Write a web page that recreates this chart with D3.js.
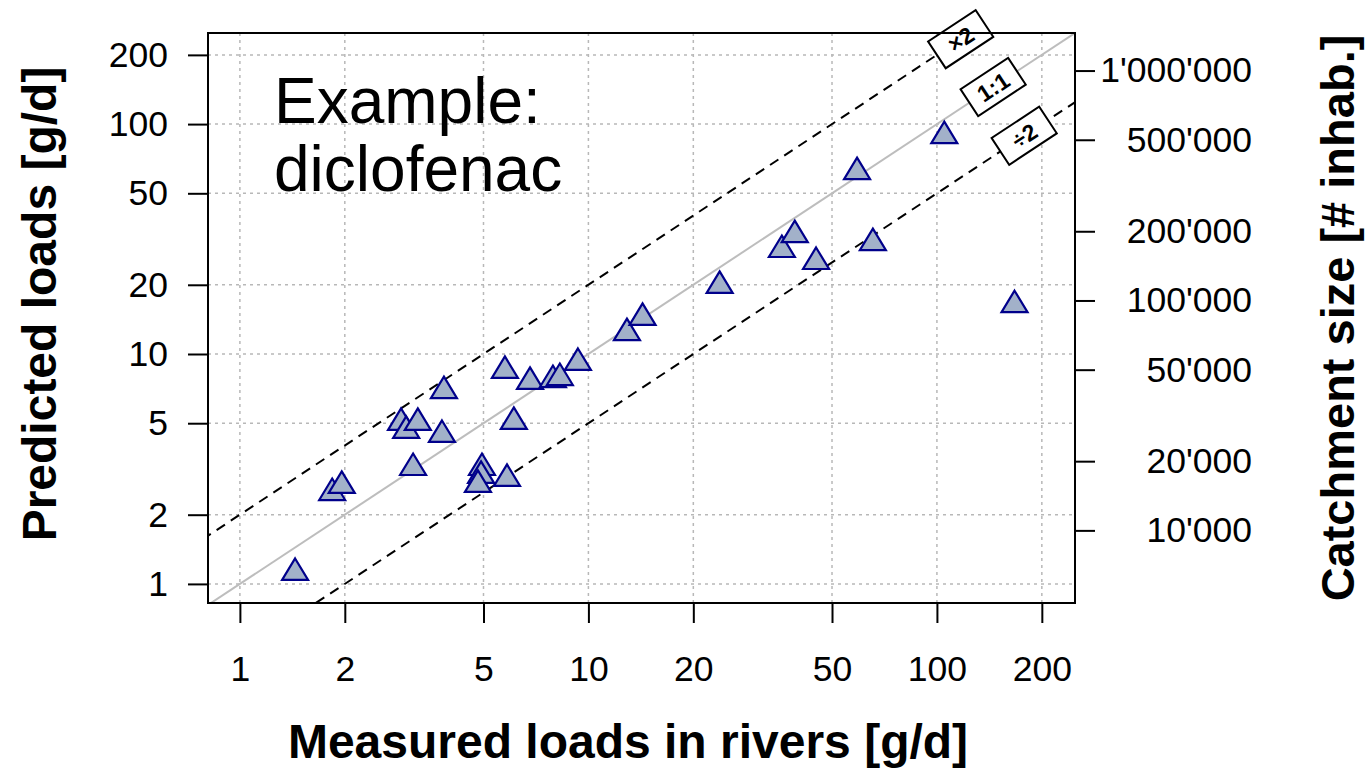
<!DOCTYPE html>
<html>
<head>
<meta charset="utf-8">
<script src="https://cdn.jsdelivr.net/npm/d3@7"></script>
<style>
  html, body { margin: 0; padding: 0; background: #fff; }
  svg { display: block; font-family: "Liberation Sans", Arial, Helvetica, sans-serif; }
</style>
</head>
<body>
<svg id="chart" width="1366" height="768"></svg>
<script>
// measured vs predicted loads (g/d)
const measured = [1.44, 1.84, 1.96, 2.90, 3.00, 3.24, 3.14, 3.80, 3.85, 4.95, 4.92, 4.82, 5.84, 6.11, 5.76,
  6.80, 7.91, 8.28, 9.33, 12.9, 14.3, 23.8, 35.9, 39.1, 45.0, 65.5, 59.0, 105, 167];
const predicted = [1.15, 2.56, 2.75, 5.17, 4.77, 5.17, 3.29, 4.58, 7.11, 3.29, 3.04, 2.78, 2.95, 5.22, 8.70,
  7.79, 7.94, 8.10, 9.42, 12.7, 14.8, 20.4, 29.2, 33.9, 25.9, 31.3, 63.7, 91.4, 16.8];

const xTicks = [1, 2, 5, 10, 20, 50, 100, 200];
const yTicks = [1, 2, 5, 10, 20, 50, 100, 200];
const inhabTicks = [10000, 20000, 50000, 100000, 200000, 500000, 1000000];
const inhabPerGram = 5850; // catchment size per g/d of predicted load

// reference lines: factor and label position (x value)
const refLines = [
  { name: 'x2', label: '×2', factor: 2, labelAt: 117 },
  { name: 'one', label: '1:1', factor: 1, labelAt: 145 },
  { name: 'half', label: '÷2', factor: 0.5, labelAt: 178 },
];

const svg = d3.select('#chart');
const plotL = 208, plotR = 1075, plotT = 33, plotB = 603;
const xDomain = [0.81, 249];
const yDomain = [0.826, 249];

const x = d3.scaleLog(xDomain, [plotL, plotR]);
const y = d3.scaleLog(yDomain, [plotB, plotT]);
const yInhab = d3.scaleLog(yDomain.map((d) => d * inhabPerGram), [plotB, plotT]);

svg.append('rect').attr('width', 1366).attr('height', 768).attr('fill', '#fff');

svg.append('clipPath').attr('id', 'plotclip')
  .append('rect').attr('x', plotL).attr('y', plotT).attr('width', plotR - plotL).attr('height', plotB - plotT);

// grid
const grid = svg.append('g').attr('stroke', '#b8b8b8').attr('stroke-width', 1.5).attr('stroke-dasharray', '3,4');
grid.selectAll('.gx').data(xTicks).join('line')
  .attr('x1', (d) => x(d)).attr('x2', (d) => x(d)).attr('y1', plotT).attr('y2', plotB);
grid.selectAll('.gy').data(yTicks).join('line')
  .attr('y1', (d) => y(d)).attr('y2', (d) => y(d)).attr('x1', plotL).attr('x2', plotR);

// example text
const ex = svg.append('text').attr('font-size', 64).attr('fill', '#000');
ex.append('tspan').attr('x', 274).attr('y', 123).text('Example:');
ex.append('tspan').attr('x', 274).attr('y', 191).text('diclofenac');

// reference lines
const lines = svg.append('g').attr('clip-path', 'url(#plotclip)');
refLines.forEach((r) => {
  lines.append('line')
    .attr('x1', x(xDomain[0] / 2)).attr('y1', y(xDomain[0] / 2 * r.factor))
    .attr('x2', x(xDomain[1] * 2)).attr('y2', y(xDomain[1] * 2 * r.factor))
    .attr('stroke', r.factor === 1 ? '#bdbdbd' : '#000')
    .attr('stroke-width', 2)
    .attr('stroke-dasharray', r.factor === 1 ? null : '10,7');
});

// points
const tri = 'M0,-11.5L13,10L-13,10Z';
svg.append('g').selectAll('path').data(measured).join('path')
  .attr('transform', (d, i) => `translate(${x(d)},${y(predicted[i])})`)
  .attr('d', tri)
  .attr('fill', '#a2b1c9')
  .attr('stroke', '#00008b')
  .attr('stroke-width', 2.2)
  .attr('stroke-linejoin', 'miter');

// labels on the reference lines
const angle = -Math.atan2(y(1) - y(10), x(10) - x(1)) * 180 / Math.PI;
refLines.forEach((r) => {
  const g = svg.append('g')
    .attr('transform', `translate(${x(r.labelAt)},${y(r.labelAt * r.factor)}) rotate(${angle})`);
  g.append('rect').attr('x', -28.5).attr('y', -16).attr('width', 57).attr('height', 32)
    .attr('fill', '#fff').attr('stroke', '#000').attr('stroke-width', 2);
  g.append('text').attr('text-anchor', 'middle').attr('dy', '0.36em')
    .attr('font-size', 23).attr('font-weight', 'bold').text(r.label);
});

// axes
function styleAxis(g) {
  g.attr('font-family', null);
  g.select('.domain').remove();
  g.selectAll('.tick line').attr('stroke', '#000').attr('stroke-width', 2);
  g.selectAll('.tick text').attr('fill', '#000').attr('font-size', 35.5);
}
svg.append('g').attr('transform', `translate(0,${plotB})`)
  .call(d3.axisBottom(x).tickValues(xTicks).tickFormat(d3.format('d')).tickSize(20).tickPadding(33))
  .call(styleAxis);
svg.append('g').attr('transform', `translate(${plotL},0)`)
  .call(d3.axisLeft(y).tickValues(yTicks).tickFormat(d3.format('d')).tickSize(20).tickPadding(20))
  .call(styleAxis);
const fmtInhab = (d) => d3.format(',')(d).replace(/,/g, "'");
svg.append('g').attr('transform', `translate(${plotR},0)`)
  .call(d3.axisRight(yInhab).tickValues(inhabTicks).tickFormat(fmtInhab).tickSize(20))
  .call(styleAxis)
  .selectAll('.tick text').attr('text-anchor', 'end').attr('x', 177);

// plot box
svg.append('rect').attr('x', plotL).attr('y', plotT).attr('width', plotR - plotL).attr('height', plotB - plotT)
  .attr('fill', 'none').attr('stroke', '#000').attr('stroke-width', 2);

// axis titles
svg.append('text').attr('x', 628).attr('y', 758).attr('text-anchor', 'middle')
  .attr('font-size', 48).attr('font-weight', 'bold').text('Measured loads in rivers [g/d]');
svg.append('text').attr('transform', 'translate(56,304) rotate(-90)').attr('text-anchor', 'middle')
  .attr('font-size', 48).attr('font-weight', 'bold').text('Predicted loads [g/d]');
svg.append('text').attr('transform', 'translate(1354,318) rotate(-90)').attr('text-anchor', 'middle')
  .attr('font-size', 47).attr('font-weight', 'bold').text('Catchment size [# inhab.]');
</script>
</body>
</html>
